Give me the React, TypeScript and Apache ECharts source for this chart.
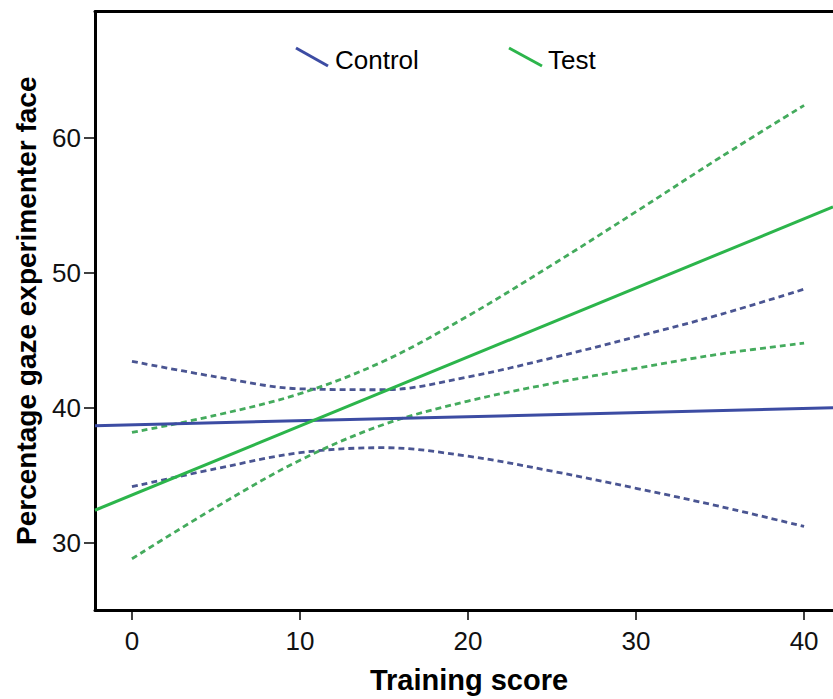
import React, { useEffect, useRef } from "react";
import * as echarts from "echarts";

const xTicks = [0, 10, 20, 30, 40];
const yTicks = [30, 40, 50, 60];
const xRange = [-2.2, 41.72];
const yRange = [25, 69.4];

const bandX = [0, 5, 10, 15, 20, 25, 30, 35, 40];
const controlUpper = [43.45, 42.3, 41.41, 41.34, 42.29, 43.7, 45.27, 46.92, 48.8];
const controlLower = [34.15, 35.48, 36.67, 37.04, 36.41, 35.3, 34.03, 32.68, 31.2];
const testUpper = [38.17, 39.45, 41.05, 43.47, 46.82, 50.6, 54.55, 58.57, 62.44];
const testLower = [28.8, 32.63, 36.11, 38.77, 40.5, 41.8, 42.93, 43.99, 44.8];

const fitX = [-2.2, 41.72];
const controlFit = [38.67, 40.0];
const testFit = [32.4, 54.9];

const legendNames = ["Control", "Test"];

const BLUE = "#3c4ca3";
const BLUE_DASH = "#4a5592";
const GREEN = "#2cb54b";
const GREEN_DASH = "#44ab5d";
const FONT = "Liberation Sans, Arial, sans-serif";

const pairs = (xs: number[], ys: number[]) => xs.map((x, i) => [x, ys[i]]);

export default function App() {
  const ref = useRef<HTMLDivElement>(null);
  useEffect(() => {
    if (!ref.current) return;
    const chart = echarts.init(ref.current, null, { renderer: "svg" });
    const solid = (name: string, ys: number[], color: string) => ({
      name,
      type: "line",
      data: pairs(fitX, ys),
      showSymbol: false,
      symbol: "none",
      lineStyle: { color, width: 3 },
      itemStyle: { color },
      z: 3,
    });
    const dashed = (name: string, ys: number[], color: string) => ({
      name,
      type: "line",
      data: pairs(bandX, ys),
      smooth: 0.35,
      showSymbol: false,
      symbol: "none",
      lineStyle: { color, width: 2.8, type: [6, 4] },
      itemStyle: { color },
      z: 2,
    });
    chart.setOption({
      animation: false,
      backgroundColor: "#ffffff",
      grid: { left: 95, top: 11.5, bottom: 88, right: 0 },
      xAxis: [
        {
          type: "value",
          min: xRange[0],
          max: xRange[1],
          splitLine: { show: false },
          axisLine: { onZero: false, lineStyle: { color: "#000", width: 3 } },
          axisTick: { customValues: xTicks, length: 10, lineStyle: { color: "#000", width: 1.5 } },
          axisLabel: {
            customValues: xTicks,
            margin: 18,
            fontSize: 26,
            color: "#111",
            fontFamily: FONT,
          },
          name: "Training score",
          nameLocation: "middle",
          nameGap: 55,
          nameTextStyle: {
            fontSize: 29,
            fontWeight: "bold",
            color: "#000",
            fontFamily: FONT,
            padding: [0, 0, 0, 10],
          },
        },
        {
          type: "value",
          position: "top",
          min: xRange[0],
          max: xRange[1],
          splitLine: { show: false },
          axisLine: { onZero: false, lineStyle: { color: "#000", width: 3 } },
          axisTick: { show: false },
          axisLabel: { show: false },
        },
      ],
      yAxis: {
        type: "value",
        min: yRange[0],
        max: yRange[1],
        splitLine: { show: false },
        axisLine: { onZero: false, lineStyle: { color: "#000", width: 3 } },
        axisTick: { customValues: yTicks, length: 11, lineStyle: { color: "#000", width: 1.5 } },
        axisLabel: {
          customValues: yTicks,
          margin: 14,
          fontSize: 26,
          color: "#111",
          fontFamily: FONT,
          padding: [6, 0, 0, 0],
        },
        name: "Percentage gaze experimenter face",
        nameLocation: "middle",
        nameGap: 55,
        nameTextStyle: {
          fontSize: 28,
          fontWeight: "bold",
          color: "#000",
          fontFamily: FONT,
        },
      },
      graphic: [
        { type: "line", shape: { x1: 296, y1: 48, x2: 328, y2: 66 }, style: { stroke: BLUE, lineWidth: 3 } },
        {
          type: "text",
          x: 335,
          y: 60,
          style: { text: legendNames[0], fontSize: 26, fontFamily: FONT, fill: "#000", verticalAlign: "middle" },
        },
        { type: "line", shape: { x1: 509, y1: 48, x2: 542, y2: 66 }, style: { stroke: GREEN, lineWidth: 3 } },
        {
          type: "text",
          x: 548,
          y: 60,
          style: { text: legendNames[1], fontSize: 26, fontFamily: FONT, fill: "#000", verticalAlign: "middle" },
        },
      ],
      series: [
        dashed("Control upper", controlUpper, BLUE_DASH),
        dashed("Control lower", controlLower, BLUE_DASH),
        dashed("Test upper", testUpper, GREEN_DASH),
        dashed("Test lower", testLower, GREEN_DASH),
        solid(legendNames[0], controlFit, BLUE),
        solid(legendNames[1], testFit, GREEN),
      ],
    });
    return () => chart.dispose();
  }, []);
  return (
    <div
      ref={ref}
      style={{ position: "absolute", left: 0, top: 0, width: 833, height: 699, background: "#fff" }}
    />
  );
}
